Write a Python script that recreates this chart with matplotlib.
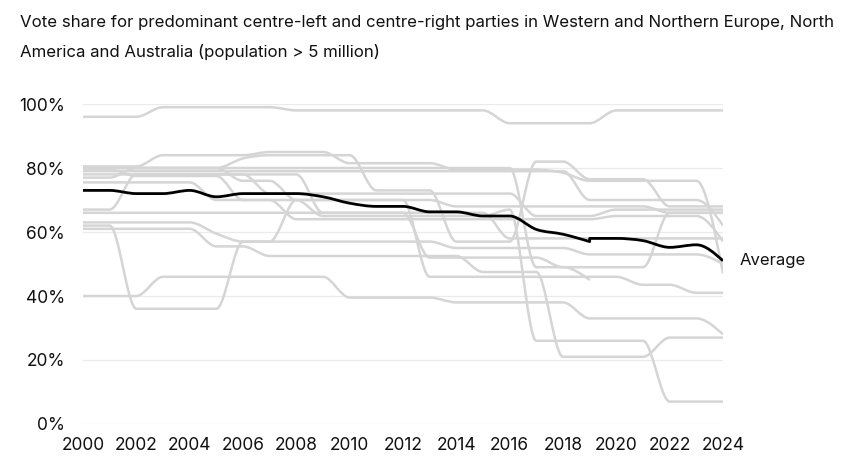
import numpy as np
import matplotlib
matplotlib.use("Agg")
import matplotlib.pyplot as plt
from matplotlib.path import Path
from matplotlib.patches import PathPatch

plt.rcParams['font.family'] = ['Inter', 'DejaVu Sans']

# ---------------- data ----------------
years = list(range(2000, 2025))
nan = float('nan')

line_01 = [96, 96, 96, 99, 99, 99, 99, 99, 98, 98, 98, 98, 98, 98, 98, 98, 94, 94, 94, 94, 98, 98, 98, 98, 98]
line_02 = [80.5, 80.5, 80.5, 84, 84, 84, 84, 85, 85, 85, 81.5, 81.5, 81.5, 81.5, 79.5, 79.5, 79.5, 79.5, 78.5, 76, 76, 76, 76, 76, 47]
line_03 = [80, 80, 80, 80, 80, 80, 83, 84, 84, 84, 84, 73, 73, 73, 57, 57, 57, 82, 82, 76.5, 76.5, 76.5, 68, 68, 68]
line_04 = [79.5, 79.5, 77.5, 77.5, 77.5, 77.5, 70, 70, 70, 70, 70, 70, 70, 46, 46, 46, 46, 46, 46, 46, 46, 43.5, 43.5, 41, 41]
line_05 = [79, 79, 79, 79, 79, 79, 79, 79, 79, 79, 79, 79, 79, 79, 79, 79, 79, 79, 79, 70, 70, 70, 70, 70, 62]
line_06 = [78, 78, 78, 78, 78, 78, 78, 72, 72, 72, 72, 72, 72, 72, 72, 72, 72, 65, 65, 65, 67, 67, 67, 67, 67]
line_07 = [77, 77, 80, 80, 80, 80, 76, 76, 70, 70, 70, 70, 70, 70, 68, 68, 68, 68, 68, 68, 68, 68, 66, 66, 66]
line_08 = [75.5, 75.5, 75.5, 75.5, 75.5, 70, 70, 70, 64, 64, 64, 64, 64, 64, 64, 64, 64, 64, 64, 64, 65, 65, 65, 65, 57]
line_09 = [63, 63, 63, 63, 63, 59.5, 57, 57, 57, 57, 57, 57, 57, 57, 55, 55, 55, 55, 55, 53, 53, 53, 53, 53, 50]
line_10 = [67, 67, 78, 78, 78, 78, 78, 78, 78, 66, 66, 66, 66, 66, 66, 66, 58, 58, 58, 58, 58, 58, 58, 58, 58]
line_11 = [62, 62, 36, 36, 36, 36, 57, 57, 70, 65, 65, 65, 65, 65, 65, 65, 67, 26, 26, 26, 26, 26, 7, 7, 7]
line_12 = [40, 40, 40, 46, 46, 46, 46, 46, 46, 46, 39.5, 39.5, 39.5, 39.5, 38, 38, 38, 38, 38, 33, 33, 33, 33, 33, 28]
line_13 = [61, 61, 61, 61, 61, 55.5, 55.5, 52.5, 52.5, 52.5, 52.5, 52.5, 52.5, 52.5, 52.5, 47.5, 47.5, 47.5, 21, 21, 21, 21, 27, 27, 27]
line_14 = [66, 66, 66, 66, 66, 66, 66, 66, 66, 66, 66, 66, 66, 52, 52, 52, 52, 52, 49, 49, 49, 49, 66, 66, 66]
line_15 = [80, 80, 80, 80, 80, 80, 80, 80, 80, 80, 80, 80, 80, 80, 80, 80, 80, 49, 49, 45, nan, nan, nan, nan, nan]

country_lines = [line_01, line_02, line_03, line_04, line_05, line_06, line_07, line_08,
                 line_09, line_10, line_11, line_12, line_13, line_14, line_15]

avg_years = [2000, 2001, 2002, 2003, 2004, 2005, 2006, 2007, 2008, 2009, 2010, 2011, 2012,
             2013, 2014, 2015, 2016, 2017, 2018, 2019, 2019, 2020, 2021, 2022, 2023, 2024]
avg_values = [73, 73, 72, 72, 73, 71, 72, 72, 72, 71, 69, 68, 68,
              66.3, 66.3, 65, 65, 60.8, 59.3, 57, 58, 58, 57.3, 55.2, 56, 51]

y_ticks = [0, 20, 40, 60, 80, 100]
x_ticks = list(range(2000, 2025, 2))
title_line1 = "Vote share for predominant centre-left and centre-right parties in Western and Northern Europe, North"
title_line2 = "America and Australia (population > 5 million)"
avg_label = "Average"


# ------------- monotone-x curve (like d3.curveMonotoneX) -------------
def monotone_segments(xs, ys):
    xs = np.asarray(xs, float)
    ys = np.asarray(ys, float)
    n = len(xs)
    h = np.diff(xs)
    s = np.diff(ys) / h
    m = np.zeros(n)
    for i in range(1, n - 1):
        s0, s1 = s[i - 1], s[i]
        h0, h1 = h[i - 1], h[i]
        p = (s0 * h1 + s1 * h0) / (h0 + h1)
        m[i] = (np.sign(s0) + np.sign(s1)) * min(abs(s0), abs(s1), 0.5 * abs(p))
    if n > 2:
        m[0] = (3 * s[0] - m[1]) / 2
        m[-1] = (3 * s[-1] - m[-2]) / 2
    else:
        m[:] = s[0]
    verts, codes = [], []
    for i in range(n - 1):
        d = h[i] / 3
        verts += [(xs[i] + d, ys[i] + m[i] * d),
                  (xs[i + 1] - d, ys[i + 1] - m[i + 1] * d),
                  (xs[i + 1], ys[i + 1])]
        codes += [Path.CURVE4] * 3
    return verts, codes


def draw_curve(ax, xs, ys, **kw):
    xs = np.asarray(xs, float)
    ys = np.asarray(ys, float)
    ok = ~np.isnan(ys)
    xs, ys = xs[ok], ys[ok]
    # where x repeats, the series steps vertically (joined by a straight segment)
    breaks = [0] + [i for i in range(1, len(xs)) if xs[i] == xs[i - 1]] + [len(xs)]
    verts = [(xs[0], ys[0])]
    codes = [Path.MOVETO]
    for k, (a, b) in enumerate(zip(breaks[:-1], breaks[1:])):
        if k > 0:
            verts.append((xs[a], ys[a]))
            codes.append(Path.LINETO)
        if b - a >= 2:
            v, c = monotone_segments(xs[a:b], ys[a:b])
            verts += v
            codes += c
    ax.add_patch(PathPatch(Path(verts, codes), fill=False, transform=ax.transData,
                           capstyle='butt', joinstyle='round', **kw))


# ---------------- figure ----------------
W, H = 867, 472
fig = plt.figure(figsize=(W / 100, H / 100), dpi=100)
ax = fig.add_axes([83 / W, 1 - 424 / H, 640 / W, 320 / H])
ax.set_xlim(2000, 2024)
ax.set_ylim(0, 100)

for yv in y_ticks:
    ax.axhline(yv, color='#ebebeb', lw=0.9, zorder=0)

for series in country_lines:
    draw_curve(ax, years, series, edgecolor='#d5d5d5', lw=1.8, zorder=2)

draw_curve(ax, avg_years, avg_values, edgecolor='black', lw=2.0, zorder=3)

ax.text(1.026, avg_values[-1] / 100, avg_label, transform=ax.transAxes,
        ha='left', va='center', fontsize=12, color='#111111')

for sp in ax.spines.values():
    sp.set_visible(False)
ax.set_yticks(y_ticks)
ax.set_yticklabels([f"{v}%" for v in y_ticks])
ax.set_xticks(x_ticks)
ax.set_xticklabels([str(v) for v in x_ticks])
ax.tick_params(axis='y', length=0, pad=13, labelsize=12.5, labelcolor='#111111')
ax.tick_params(axis='x', length=0, pad=9, labelsize=12.5, labelcolor='#111111')

fig.text(20 / W, 1 - 22 / H, title_line1, ha='left', va='center', fontsize=12.1, color='#111111')
fig.text(20 / W, 1 - 52 / H, title_line2, ha='left', va='center', fontsize=12.1, color='#111111')

fig.savefig("out.png", dpi=100)
